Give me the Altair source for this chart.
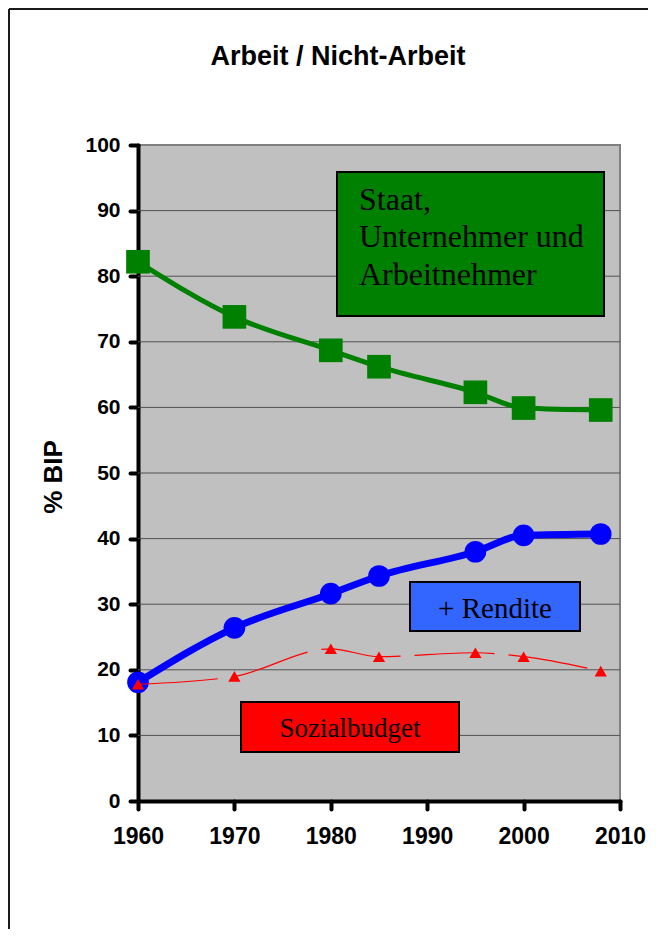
import altair as alt
import pandas as pd

years = [1960, 1970, 1980, 1985, 1995, 2000, 2008]
staat = [82.2, 73.8, 68.7, 66.2, 62.3, 59.9, 59.6]
rendite = [18.1, 26.4, 31.6, 34.3, 38.0, 40.5, 40.7]
sozial = [17.8, 19.0, 23.2, 22.0, 22.6, 22.0, 19.8]
x_ticks = [1960, 1970, 1980, 1990, 2000, 2010]
y_ticks = list(range(0, 101, 10))
grid_vals = list(range(10, 100, 10))

title_text = "Arbeit / Nicht-Arbeit"
y_title = "% BIP"
green_lines = ["Staat,", "Unternehmer und", "Arbeitnehmer"]
blue_label = "+ Rendite"
red_label = "Sozialbudget"

W, H = 482, 656
SANS = "Liberation Sans"
SERIF = "Liberation Serif"

df = pd.DataFrame({"Jahr": years, "Staat": staat, "Rendite": rendite, "Sozial": sozial})
one = pd.DataFrame({"k": [0]})

xs = alt.Scale(domain=[1960, 2010], nice=False, zero=False)
ys = alt.Scale(domain=[0, 100], nice=False, zero=False)

x_axis = alt.Axis(values=x_ticks, format="d", title=None, grid=False, labelFlush=False,
                  domainColor="black", domainWidth=4, domainCap="round",
                  tickColor="black", tickWidth=4, tickSize=8, tickCap="round",
                  labelFont=SANS, labelFontSize=23, labelFontWeight="bold",
                  labelColor="black", labelPadding=16)
y_axis = alt.Axis(values=y_ticks, format="d", title=None, grid=False,
                  domainColor="black", domainWidth=4, domainCap="round",
                  tickColor="black", tickWidth=4, tickSize=8, tickCap="round",
                  labelFont=SANS, labelFontSize=21, labelFontWeight="bold",
                  labelColor="black", labelPadding=10)

X = alt.X("Jahr:Q", scale=xs, axis=x_axis)

grid = alt.Chart(pd.DataFrame({"g": grid_vals})).mark_rule(
    color="#505050", strokeWidth=1
).encode(y=alt.Y("g:Q", scale=ys, axis=y_axis))

base = alt.Chart(df)
g_line = base.mark_line(color="#008000", strokeWidth=5, interpolate="monotone").encode(
    x=X, y=alt.Y("Staat:Q", scale=ys, axis=y_axis))
g_pts = base.mark_point(shape="square", filled=True, color="#008000", size=560, opacity=1).encode(
    x=X, y=alt.Y("Staat:Q", scale=ys, axis=y_axis))
b_line = base.mark_line(color="#0000FF", strokeWidth=7, interpolate="monotone").encode(
    x=X, y=alt.Y("Rendite:Q", scale=ys, axis=y_axis))
b_pts = base.mark_point(shape="circle", filled=True, color="#0000FF", size=470, opacity=1).encode(
    x=X, y=alt.Y("Rendite:Q", scale=ys, axis=y_axis))
r_line = base.mark_line(color="#FF0000", strokeWidth=1.2, interpolate="monotone",
                        strokeDash=[80, 14]).encode(
    x=X, y=alt.Y("Sozial:Q", scale=ys, axis=y_axis))
r_pts = base.mark_point(shape="triangle-up", filled=True, color="#FF0000", size=150, opacity=1).encode(
    x=X, y=alt.Y("Sozial:Q", scale=ys, axis=y_axis))

ann = alt.Chart(one)

def box(x1, x2, y1, y2, fill):
    return ann.mark_rect(fill=fill, stroke="black", strokeWidth=2).encode(
        x=alt.value(x1), x2=alt.value(x2), y=alt.value(y1), y2=alt.value(y2))

def label(txt, x, y, size, align="left", font=SERIF, weight="normal", angle=0):
    return ann.mark_text(text=txt, font=font, fontSize=size, fontWeight=weight,
                         align=align, baseline="alphabetic", color="black", angle=angle).encode(
        x=alt.value(x), y=alt.value(y))

green_box = box(199, 466, 27, 171, "#008000")
blue_box = box(272, 442, 437, 486, "#3366FF")
red_box = box(103, 321, 557, 607, "#FF0000")

texts = [
    label(green_lines[0], 221, 65, 32),
    label(green_lines[1], 221, 102, 32),
    label(green_lines[2], 221, 140, 32),
    label(blue_label, 357, 473, 29, align="center"),
    label(red_label, 212, 592, 27, align="center"),
    label(title_text, 200, -80, 27, align="center", font=SANS, weight="bold"),
    label(y_title, -76, 332, 26, align="center", font=SANS, weight="bold", angle=270),
]

border_v = ann.mark_rule(color="#1a1a1a", strokeWidth=2).encode(
    x=alt.value(-129), y=alt.value(-136), y2=alt.value(H + 160))
border_h = ann.mark_rule(color="#1a1a1a", strokeWidth=2).encode(
    x=alt.value(-129), x2=alt.value(W + 40), y=alt.value(-136))

chart = alt.layer(
    grid, green_box, blue_box, red_box,
    g_line, g_pts, b_line, b_pts, r_line, r_pts,
    *texts, border_v, border_h
).resolve_scale(x="shared", y="shared").properties(
    width=W, height=H,
    autosize=alt.AutoSizeParams(type="none"),
    padding={"left": 130, "top": 137, "right": 28, "bottom": 128},
    background="white",
).configure_view(
    fill="#C0C0C0", stroke="#808080", strokeWidth=2
)

chart.save("out.html", embed_options={"renderer": "svg", "actions": False})
